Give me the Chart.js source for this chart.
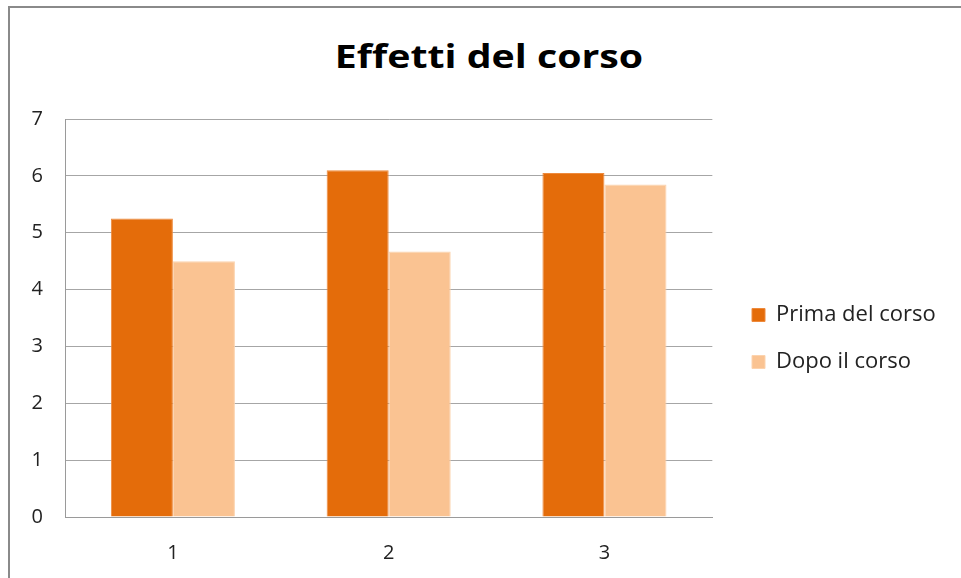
<!DOCTYPE html>
<html>
<head>
<meta charset="utf-8">
<script src="https://cdn.jsdelivr.net/npm/chart.js@4/dist/chart.umd.min.js"></script>
<style>
  html, body { margin: 0; padding: 0; background: #fff; overflow: hidden; }
  #wrap { position: relative; width: 961px; height: 578px; }
  #frame {
    position: absolute; left: 8px; top: 6px; width: 1000px; height: 600px;
    border-left: 2px solid #8a8a8a; border-top: 2px solid #8a8a8a;
  }
  #title {
    position: absolute; left: 8px; width: 962px; top: 34px; margin: 0;
    text-align: center; font-family: "Open Sans", sans-serif; font-weight: 700;
    font-size: 33px; line-height: 44px; color: #000;
    transform: scaleX(1.19);
  }
  canvas { position: absolute; left: 0; top: 0; }
</style>
</head>
<body>
<div id="wrap">
  <div id="frame"></div>
  <h1 id="title">Effetti del corso</h1>
  <canvas id="chart" width="961" height="578"></canvas>
</div>
<script>
const categories = ["1", "2", "3"];
const primaDelCorso = [5.25, 6.1, 6.05];
const dopoIlCorso = [4.5, 4.67, 5.85];
const yTicks = [0, 1, 2, 3, 4, 5, 6, 7];

const font = "'Open Sans', sans-serif";

// nudge the legend into the spot Excel gave it
const legendShift = {
  id: "legendShift",
  afterLayout: function (chart) {
    const lg = chart.legend;
    const dx = 755 - (chart.chartArea.right + 28);
    lg.left += dx;
    lg.right += dx;
    lg.top -= 10;
    lg.bottom -= 10;
  },
};

const ctx = document.getElementById("chart").getContext("2d");
new Chart(ctx, {
  type: "bar",
  data: {
    labels: categories,
    datasets: [
      {
        label: "Prima del corso",
        data: primaDelCorso,
        backgroundColor: "#e46c0a",
        borderColor: "#ee8a3c",
        borderWidth: 1,
      },
      {
        label: "Dopo il corso",
        data: dopoIlCorso,
        backgroundColor: "#fac392",
        borderColor: "#fcd3ae",
        borderWidth: 1,
      },
    ],
  },
  plugins: [legendShift],
  options: {
    responsive: false,
    animation: false,
    layout: {
      padding: { top: 119, left: 12, right: 30, bottom: 0 },
    },
    datasets: {
      bar: {
        categoryPercentage: 0.575,
        barPercentage: 1,
      },
    },
    plugins: {
      title: { display: false },
      tooltip: { enabled: false },
      legend: {
        position: "right",
        align: "center",
        labels: {
          boxWidth: 13,
          boxHeight: 13,
          padding: 25,
          color: "#222",
          font: { family: font, size: 22 },
        },
      },
    },
    scales: {
      x: {
        grid: { display: false, drawTicks: false },
        border: { display: true, color: "#9a9a9a", width: 1 },
        ticks: {
          color: "#222",
          padding: 24,
          font: { family: font, size: 20 },
        },
        afterFit: function (scale) {
          scale.height = 61;
        },
      },
      y: {
        min: 0,
        max: 7,
        afterBuildTicks: function (scale) {
          scale.ticks = yTicks.map(function (v) { return { value: v }; });
        },
        grid: { color: "#a6a6a6", drawTicks: false },
        border: { display: true, color: "#9a9a9a", width: 1 },
        ticks: {
          color: "#222",
          padding: 22,
          font: { family: font, size: 20 },
        },
        afterFit: function (scale) {
          scale.width = 53;
        },
      },
    },
  },
});
</script>
</body>
</html>
